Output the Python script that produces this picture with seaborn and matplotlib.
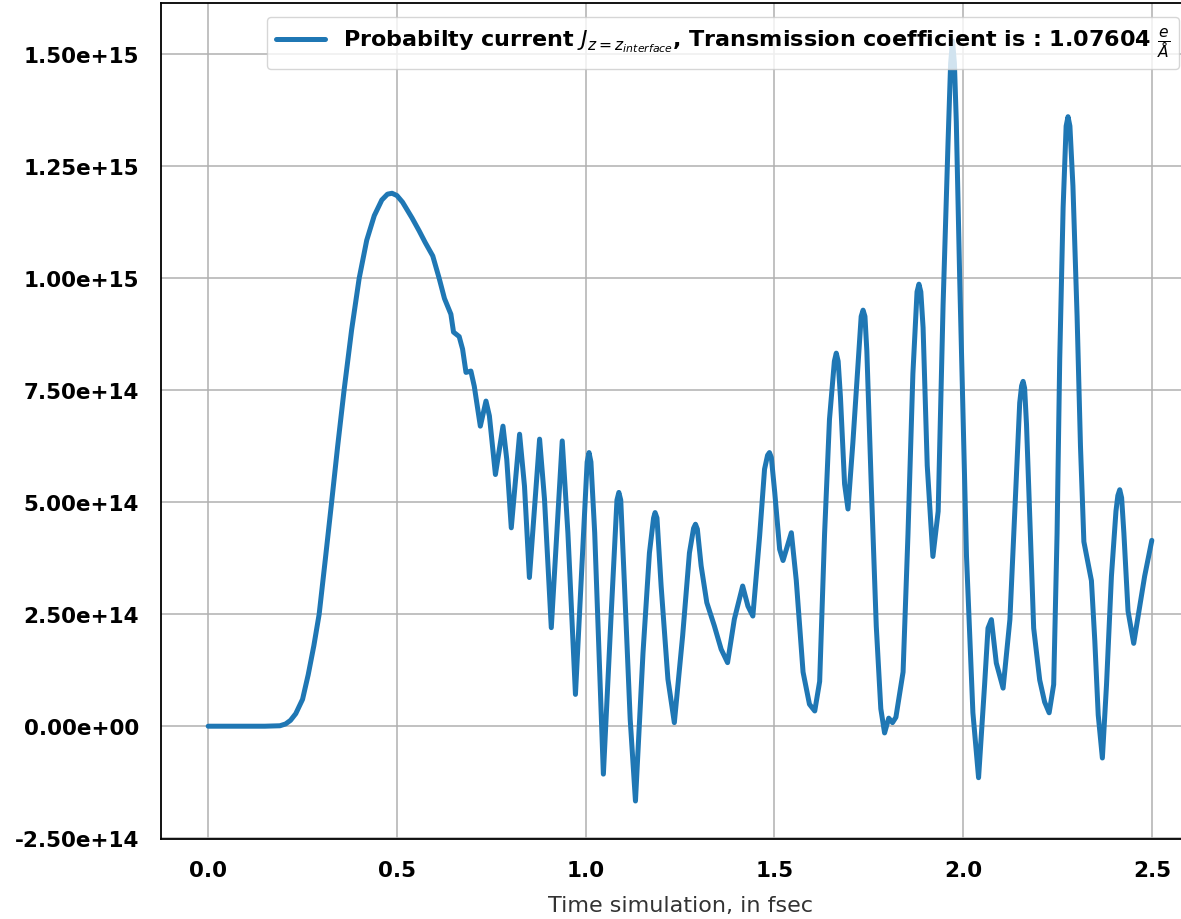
import numpy as np
import pandas as pd
import matplotlib
matplotlib.use("Agg")
import matplotlib.pyplot as plt
from matplotlib.ticker import MultipleLocator, FuncFormatter
import seaborn as sns

# Probability current through the interface plane, in units of 1e14
time_fs = [
    0.000, 0.050, 0.100, 0.150, 0.190, 0.205, 0.218, 0.232, 0.250, 0.265,
    0.280, 0.294, 0.310, 0.327, 0.343, 0.360, 0.380, 0.400, 0.420, 0.440,
    0.460, 0.475, 0.487, 0.500, 0.515, 0.540, 0.559, 0.575, 0.595, 0.612,
    0.626, 0.643, 0.650, 0.665, 0.674, 0.683, 0.696, 0.705, 0.714, 0.721,
    0.736, 0.745, 0.761, 0.781, 0.791, 0.803, 0.825, 0.838, 0.851, 0.878,
    0.891, 0.909, 0.938, 0.953, 0.973, 1.004, 1.009, 1.014, 1.024, 1.047,
    1.067, 1.083, 1.088, 1.093, 1.103, 1.118, 1.132, 1.152, 1.169, 1.180,
    1.184, 1.189, 1.200, 1.218, 1.235, 1.257, 1.275, 1.286, 1.291, 1.296,
    1.306, 1.321, 1.341, 1.359, 1.376, 1.394, 1.416, 1.430, 1.443, 1.461,
    1.474, 1.482, 1.487, 1.492, 1.501, 1.514, 1.523, 1.545, 1.558, 1.576,
    1.593, 1.607, 1.620, 1.633, 1.646, 1.659, 1.664, 1.669, 1.675, 1.686,
    1.695, 1.708, 1.724, 1.730, 1.735, 1.740, 1.745, 1.757, 1.770, 1.782,
    1.792, 1.803, 1.813, 1.822, 1.841, 1.854, 1.867, 1.878, 1.883, 1.888,
    1.894, 1.905, 1.920, 1.934, 1.947, 1.960, 1.967, 1.972, 1.977, 1.982,
    1.991, 2.009, 2.026, 2.041, 2.057, 2.066, 2.075, 2.088, 2.106, 2.124,
    2.137, 2.150, 2.155, 2.159, 2.163, 2.168, 2.178, 2.187, 2.203, 2.216,
    2.228, 2.240, 2.249, 2.256, 2.265, 2.273, 2.278, 2.283, 2.291, 2.302,
    2.311, 2.320, 2.331, 2.340, 2.349, 2.358, 2.369, 2.380, 2.393, 2.405,
    2.410, 2.415, 2.420, 2.426, 2.437, 2.452, 2.468, 2.481, 2.500,
]
current_e14 = [
    0.00, 0.00, 0.00, 0.00, 0.01, 0.05, 0.13, 0.28, 0.60, 1.15,
    1.80, 2.50, 3.70, 5.00, 6.25, 7.50, 8.85, 10.00, 10.85, 11.40,
    11.75, 11.88, 11.90, 11.85, 11.70, 11.35, 11.06, 10.80, 10.50, 10.00,
    9.55, 9.20, 8.80, 8.70, 8.42, 7.90, 7.93, 7.59, 7.08, 6.70,
    7.26, 6.93, 5.62, 6.70, 5.96, 4.43, 6.52, 5.36, 3.32, 6.41,
    5.07, 2.20, 6.37, 4.32, 0.71, 5.90, 6.11, 5.90, 4.32, -1.07,
    2.39, 5.05, 5.22, 5.05, 3.13, 0.16, -1.67, 1.64, 3.87, 4.65,
    4.77, 4.65, 3.13, 1.05, 0.08, 2.02, 3.87, 4.42, 4.51, 4.40,
    3.58, 2.76, 2.24, 1.72, 1.42, 2.39, 3.13, 2.68, 2.46, 4.25,
    5.74, 6.05, 6.11, 6.00, 5.22, 3.95, 3.70, 4.32, 3.26, 1.21,
    0.49, 0.34, 1.00, 4.29, 6.85, 8.15, 8.33, 8.15, 7.36, 5.41,
    4.85, 6.33, 8.38, 9.15, 9.29, 9.15, 8.38, 5.31, 2.23, 0.39,
    -0.15, 0.18, 0.08, 0.20, 1.21, 4.29, 7.87, 9.70, 9.87, 9.70,
    8.90, 5.82, 3.79, 4.80, 9.41, 13.00, 14.80, 15.30, 14.80, 13.50,
    10.00, 3.80, 0.30, -1.15, 0.93, 2.19, 2.38, 1.41, 0.85, 2.38,
    4.80, 7.22, 7.60, 7.70, 7.55, 6.74, 4.31, 2.19, 1.03, 0.54,
    0.30, 0.93, 4.31, 8.19, 11.58, 13.40, 13.61, 13.40, 12.06, 9.16,
    6.25, 4.12, 3.64, 3.25, 1.90, 0.25, -0.71, 0.93, 3.35, 4.80,
    5.15, 5.28, 5.10, 4.31, 2.57, 1.85, 2.67, 3.35, 4.15,
]
UNIT = 1e14

legend_label = (r"Probabilty current $J_{z=z_{interface}}$, "
                r"Transmission coefficient is : 1.07604 $\frac{e}{\AA}$")
x_label = "Time simulation, in fsec"

df = pd.DataFrame({"t": time_fs, "J": np.array(current_e14) * UNIT})

sns.set_style("white")
plt.rcParams["font.family"] = ["DejaVu Sans"]

fig = plt.figure(figsize=(11.81, 9.2), dpi=100)
ax = fig.add_axes([161 / 1181, 80 / 920, 1038 / 1181, 836 / 920])

sns.lineplot(data=df, x="t", y="J", ax=ax, color="#1f77b4", linewidth=3.6,
             label=legend_label, sort=False, estimator=None)

ax.yaxis.set_major_locator(MultipleLocator(2.5e14))
ax.xaxis.set_major_locator(MultipleLocator(0.5))
ax.yaxis.set_major_formatter(FuncFormatter(lambda v, p: f"{v:.2e}"))
ax.xaxis.set_major_formatter(FuncFormatter(lambda v, p: f"{v:.1f}"))

ax.grid(True, color="#b0b0b0", linewidth=1.1)
ax.set_axisbelow(True)

for side in ["left", "bottom", "top", "right"]:
    ax.spines[side].set_visible(True)
    ax.spines[side].set_color("black")
    ax.spines[side].set_linewidth(1.3)

ax.tick_params(axis="both", direction="out", length=7, width=1.2,
               color="black", labelsize=15.5, labelcolor="black")
ax.tick_params(axis="y", pad=9)
ax.tick_params(axis="x", pad=8)
for lbl in ax.get_xticklabels() + ax.get_yticklabels():
    lbl.set_fontweight("bold")

ax.set_xlabel(x_label, fontsize=16, color="#333333", labelpad=11)
ax.set_ylabel("")

leg = ax.legend(loc="upper right", bbox_to_anchor=(0.9807, 0.9833),
                borderaxespad=0.0, prop={"weight": "bold", "size": 16},
                framealpha=0.8, fancybox=True, handlelength=2.2)
leg.get_frame().set_edgecolor("#cccccc")
for txt in leg.get_texts():
    txt.set_color("black")

fig.savefig("out.png", dpi=100)
